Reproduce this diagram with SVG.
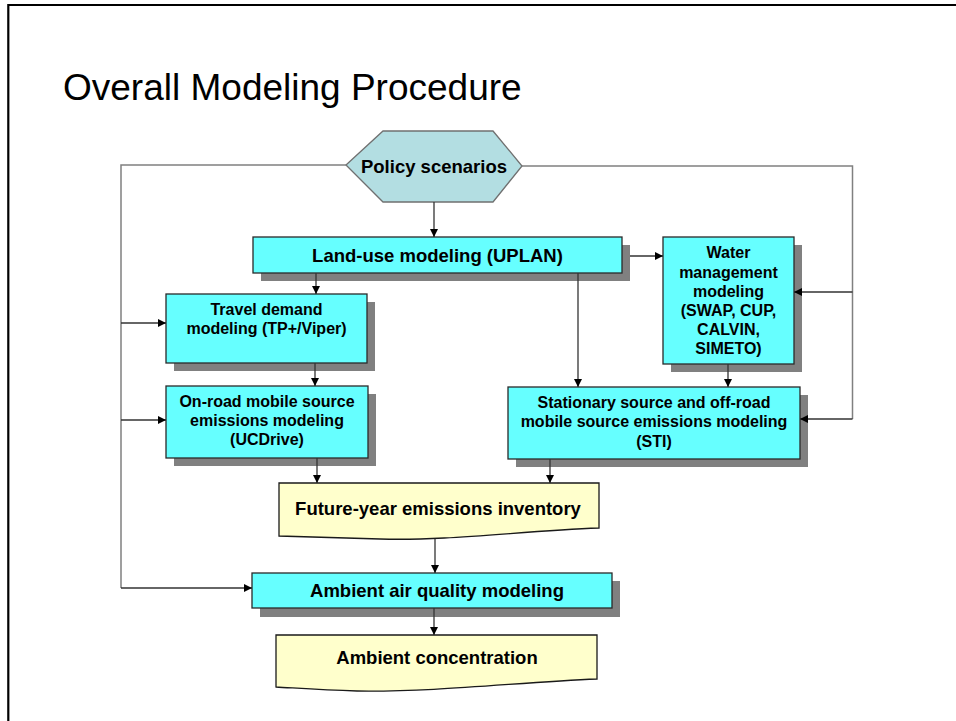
<svg xmlns="http://www.w3.org/2000/svg" width="956" height="721" viewBox="0 0 956 721">
<defs>
<marker id="ah" viewBox="0 0 10 10" refX="10" refY="5" markerWidth="9" markerHeight="8" markerUnits="userSpaceOnUse" orient="auto">
<path d="M0,0 L10,5 L0,10 Z" fill="#000"/>
</marker>
</defs>
<style>
.title{font-family:"Liberation Sans",Arial,sans-serif;font-size:37px;fill:#000}
.t{font-family:"Liberation Sans",Arial,sans-serif;font-weight:bold;fill:#000;text-anchor:middle}
.big{font-size:18.5px}
.sm{font-size:16px}
.box{fill:#66FFFF;stroke:#2a2a2a;stroke-width:1.3}
.sh{fill:#808080}
.doc{fill:#FFFFCC;stroke:#1a1a1a;stroke-width:1.3}
.hex{fill:#B3DEE2;stroke:#707070;stroke-width:1.3}
.c{fill:none;stroke:#333;stroke-width:1.3}
.g{fill:none;stroke:#808080;stroke-width:1.5}
.ca{marker-end:url(#ah)}
</style>
<rect width="956" height="721" fill="#fff"/>
<path d="M8.3,721 V5 H956" fill="none" stroke="#000" stroke-width="2.2"/>
<text class="title" x="63" y="100">Overall Modeling Procedure</text>

<g id="policy">
<polygon class="hex" points="346,165 383,131 493,131 522,166 493,202 383,202"/>
<text class="t big" x="434" y="173">Policy scenarios</text>
</g>

<g id="landuse">
<rect class="sh" x="261" y="245" width="369" height="36"/>
<rect class="box" x="253" y="237" width="369" height="36"/>
<text class="t big" x="437.5" y="261.5">Land-use modeling (UPLAN)</text>
</g>

<g id="water">
<rect class="sh" x="671" y="245" width="131" height="127"/>
<rect class="box" x="663" y="237" width="131" height="127"/>
<text class="t sm" x="728.5" y="258">Water</text>
<text class="t sm" x="728.5" y="277.5">management</text>
<text class="t sm" x="728.5" y="297">modeling</text>
<text class="t sm" x="728.5" y="316">(SWAP, CUP,</text>
<text class="t sm" x="728.5" y="335">CALVIN,</text>
<text class="t sm" x="728.5" y="354">SIMETO)</text>
</g>

<g id="travel">
<rect class="sh" x="174" y="302" width="201" height="69"/>
<rect class="box" x="166" y="294" width="201" height="69"/>
<text class="t sm" x="266.5" y="315">Travel demand</text>
<text class="t sm" x="266.5" y="334">modeling (TP+/Viper)</text>
</g>

<g id="onroad">
<rect class="sh" x="174" y="394" width="202" height="72"/>
<rect class="box" x="166" y="386" width="202" height="72"/>
<text class="t sm" x="267" y="407">On-road mobile source</text>
<text class="t sm" x="267" y="426">emissions modeling</text>
<text class="t sm" x="267" y="445">(UCDrive)</text>
</g>

<g id="stationary">
<rect class="sh" x="516" y="395" width="292" height="72"/>
<rect class="box" x="508" y="387" width="292" height="72"/>
<text class="t sm" x="654" y="408">Stationary source and off-road</text>
<text class="t sm" x="654" y="427">mobile source emissions modeling</text>
<text class="t sm" x="654" y="446.5">(STI)</text>
</g>

<g id="inventory">
<path class="doc" d="M279,483 H599 V528 C520,531 450,541 380,539 C340,538 305,537 279,536 Z"/>
<text class="t big" x="438" y="514.5">Future-year emissions inventory</text>
</g>

<g id="airquality">
<rect class="sh" x="260" y="581" width="360" height="36"/>
<rect class="box" x="252" y="573" width="360" height="35"/>
<text class="t big" x="437" y="596.5">Ambient air quality modeling</text>
</g>

<g id="concentration">
<path class="doc" d="M276,635 H597 V679 C520,682 440,692 357,691 C320,690 295,688 276,687 Z"/>
<text class="t big" x="437" y="664">Ambient concentration</text>
</g>

<g id="connectors">
<path class="g" d="M346,165 H121 V588"/>
<path class="g" d="M522,166 H852.5 V419"/>
<path class="c ca" d="M434,202 V237"/>
<path class="c ca" d="M630,256 H663"/>
<path class="c ca" d="M316,273 V294"/>
<path class="c ca" d="M578,273 V387"/>
<path class="c ca" d="M121,323 H166"/>
<path class="c ca" d="M852.5,292 H794"/>
<path class="c ca" d="M315,363 V386"/>
<path class="c ca" d="M728,364 V387"/>
<path class="c ca" d="M121,420 H166"/>
<path class="c ca" d="M852.5,419 H800"/>
<path class="c ca" d="M317,458 V483"/>
<path class="c ca" d="M550,459 V483"/>
<path class="c ca" d="M435,539 V573"/>
<path class="c ca" d="M121,588 H252"/>
<path class="c ca" d="M434,608 V635"/>
</g>
</svg>
